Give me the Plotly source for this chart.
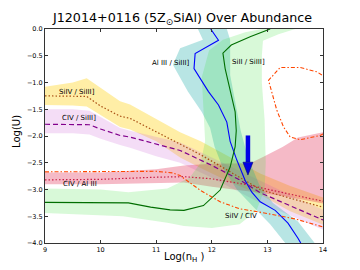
import plotly.graph_objects as go

# ---------------- axes ----------------
nH_ticks = [9, 10, 11, 12, 13, 14]
logU_ticks = [0.0, -0.5, -1.0, -1.5, -2.0, -2.5, -3.0, -3.5, -4.0]

# ---------------- SiIV / SiIII] (band + dotted line) ----------------
siiv_siii_nH = [9.0, 9.5, 9.75, 10.0, 10.35, 10.53, 11.0, 11.43, 11.8, 12.3, 12.87, 13.4, 14.0]
siiv_siii_hi = [-1.08, -1.0, -0.92, -1.1, -1.35, -1.41, -1.68, -1.93, -2.1, -2.38, -2.7, -2.93, -3.15]
siiv_siii_mid = [-1.25, -1.25, -1.26, -1.44, -1.63, -1.67, -1.92, -2.14, -2.35, -2.65, -3.0, -3.16, -3.33]
siiv_siii_lo = [-1.42, -1.43, -1.45, -1.6, -1.83, -1.88, -2.1, -2.4, -2.6, -2.85, -3.1, -3.4, -3.66]

# ---------------- CIV / SiIII] ----------------
civ_siii_nH = [9.0, 9.5, 9.8, 10.0, 10.35, 10.53, 11.0, 11.43, 12.0, 12.5, 12.87, 13.4, 14.0]
civ_siii_hi = [-1.5, -1.5, -1.53, -1.65, -1.85, -1.9, -2.02, -2.12, -2.4, -2.65, -2.85, -3.1, -3.38]
civ_siii_mid = [-1.78, -1.78, -1.79, -1.87, -1.99, -2.02, -2.15, -2.27, -2.55, -2.82, -3.06, -3.3, -3.57]
civ_siii_lo = [-1.95, -1.95, -1.97, -2.05, -2.17, -2.22, -2.38, -2.5, -2.78, -3.05, -3.25, -3.48, -3.75]

# ---------------- CIV / Al III ----------------
civ_aliii_nH = [9.0, 10.0, 11.0, 11.5, 12.0, 12.69, 12.93, 13.28, 13.55, 14.0]
civ_aliii_hi = [-2.68, -2.68, -2.62, -2.55, -2.52, -2.51, -2.39, -2.2, -2.03, -1.93]
civ_aliii_mid = [-2.82, -2.81, -2.77, -2.76, -2.8, -2.92, -2.98, -3.06, -3.12, -3.22]
civ_aliii_lo = [-2.9, -2.9, -2.88, -2.87, -2.95, -3.04, -3.07, -3.12, -3.17, -3.26]

# ---------------- Al III / SiIII] ----------------
aliii_siii_line_nH = [11.98, 12.12, 11.7, 11.68, 11.94, 12.12, 12.27, 12.33, 12.45, 12.6, 12.72, 12.87, 13.14, 13.37, 13.55, 13.6]
aliii_siii_line_U = [0.0, -0.21, -0.46, -0.74, -1.17, -1.42, -1.74, -2.1, -2.45, -2.83, -3.05, -3.23, -3.39, -3.63, -3.91, -4.0]
aliii_siii_left_nH = [11.75, 11.84, 11.43, 11.3, 11.57, 11.82, 11.97, 12.05, 12.2, 12.45, 12.78, 13.05, 13.32]
aliii_siii_left_U = [0.0, -0.2, -0.36, -0.67, -1.17, -1.55, -1.85, -2.2, -2.6, -3.0, -3.36, -3.65, -4.0]
aliii_siii_right_nH = [12.27, 12.33, 12.33, 12.45, 12.52, 12.65, 12.85, 13.1, 13.55, 13.85]
aliii_siii_right_U = [0.0, -0.2, -0.86, -1.5, -1.9, -2.4, -2.9, -3.25, -3.6, -4.0]

# ---------------- SiII / SiIII] ----------------
siii_siii_line_nH = [9.0, 10.0, 10.5, 10.9, 11.25, 11.5, 11.85, 12.15, 12.33, 12.42, 12.44, 12.42, 12.33, 12.24, 12.2, 12.35, 12.7, 13.05]
siii_siii_line_U = [-3.24, -3.24, -3.25, -3.33, -3.38, -3.39, -3.3, -3.01, -2.58, -2.2, -1.9, -1.55, -1.17, -0.74, -0.45, -0.3, -0.14, 0.0]
siii_siii_inner_nH = [9.0, 10.0, 10.5, 11.2, 11.6, 11.8, 11.88, 11.85, 11.82, 11.95, 12.2, 12.6, 12.9]
siii_siii_inner_U = [-2.98, -3.0, -3.05, -2.98, -2.78, -2.5, -2.1, -1.5, -0.9, -0.4, -0.2, -0.06, 0.0]
siii_siii_outer_nH = [13.5, 13.2, 12.92, 12.9, 12.9, 12.95, 12.97, 12.95, 12.8, 12.5, 12.0, 11.5, 11.2, 10.4, 9.0]
siii_siii_outer_U = [0.0, -0.1, -0.22, -0.5, -1.0, -1.7, -2.5, -3.0, -3.4, -3.65, -3.72, -3.68, -3.62, -3.5, -3.44]

# ---------------- SiIV / CIV (two contour branches) ----------------
siiv_civ_low_nH = [9.0, 10.0, 11.0, 11.3, 11.43, 11.8, 12.15, 12.5, 12.9, 13.5, 14.0]
siiv_civ_low_U = [-2.67, -2.66, -2.66, -2.69, -2.74, -3.02, -3.23, -3.36, -3.43, -3.55, -3.7]
siiv_civ_loop_nH = [13.98, 13.89, 13.59, 13.23, 13.02, 13.08, 13.17, 13.29, 13.41, 13.59, 13.8, 13.95, 14.0]
siiv_civ_loop_U = [-0.86, -0.8, -0.72, -0.72, -0.96, -1.17, -1.52, -1.83, -2.02, -2.07, -2.03, -1.99, -1.96]

# ---------------- solution arrow ----------------
arrow_nH = 12.65
arrow_U_from = -1.99
arrow_U_to = -2.73

# ---------------- labels ----------------
label_text = ["SiIV / SiIII]", "CIV / SiIII]", "CIV / Al III", "Al III / SiIII]", "SiII / SiIII]", "SiIV / CIV"]
label_nH = [9.58, 9.62, 9.63, 11.26, 12.66, 12.52]
label_U = [-1.17, -1.67, -2.89, -0.64, -0.62, -3.5]

FONT = "DejaVu Sans"
fig = go.Figure()


def band(x_hi, y_hi, x_lo, y_lo, color):
    fig.add_trace(go.Scatter(x=list(x_hi) + list(x_lo)[::-1], y=list(y_hi) + list(y_lo)[::-1],
                             fill="toself", fillcolor=color, mode="lines",
                             line=dict(width=0, color=color), hoverinfo="skip"))


def line(x, y, color, dash, width=1.1):
    fig.add_trace(go.Scatter(x=x, y=y, mode="lines", line=dict(color=color, dash=dash, width=width),
                             hoverinfo="skip"))


# bands
band(siiv_siii_nH, siiv_siii_hi, siiv_siii_nH, siiv_siii_lo, "rgba(255,210,20,0.38)")
band(civ_siii_nH, civ_siii_hi, civ_siii_nH, civ_siii_lo, "rgba(210,120,220,0.25)")
band(civ_aliii_nH, civ_aliii_hi, civ_aliii_nH, civ_aliii_lo, "rgba(225,40,80,0.32)")
band(aliii_siii_left_nH, aliii_siii_left_U, aliii_siii_right_nH, aliii_siii_right_U, "rgba(20,170,165,0.3)")
fig.add_trace(go.Scatter(x=siii_siii_inner_nH + siii_siii_outer_nH, y=siii_siii_inner_U + siii_siii_outer_U,
                         fill="toself", fillcolor="rgba(60,225,60,0.2)", mode="lines",
                         line=dict(width=0), hoverinfo="skip"))

# lines
line(siiv_siii_nH, siiv_siii_mid, "rgb(170,80,20)", "1.5px,2px", 1.2)
line(civ_siii_nH, civ_siii_mid, "rgb(130,0,140)", "5px,3px", 1.2)
line(civ_aliii_nH, civ_aliii_mid, "rgb(200,30,70)", "1.5px,2px", 1.2)
line(aliii_siii_line_nH, aliii_siii_line_U, "rgb(0,0,255)", "solid")
line(siii_siii_line_nH, siii_siii_line_U, "rgb(0,110,0)", "solid")
line(siiv_civ_low_nH, siiv_civ_low_U, "rgb(255,70,0)", "4px,2px,1.5px,2px")
line(siiv_civ_loop_nH, siiv_civ_loop_U, "rgb(255,70,0)", "4px,2px,1.5px,2px")

# arrow (shaft + head)
head_len = 0.24
head_half = 0.09
fig.add_shape(type="line", x0=arrow_nH, x1=arrow_nH, y0=arrow_U_from, y1=arrow_U_to + head_len,
              line=dict(color="rgb(0,0,230)", width=4.5))
fig.add_shape(type="path",
              path=f"M {arrow_nH - head_half},{arrow_U_to + head_len} L {arrow_nH + head_half},{arrow_U_to + head_len} L {arrow_nH},{arrow_U_to} Z",
              fillcolor="rgb(0,0,230)", line=dict(color="rgb(0,0,120)", width=0.6))

for t, xx, yy in zip(label_text, label_nH, label_U):
    fig.add_annotation(x=xx, y=yy, text=t, showarrow=False, xanchor="center", yanchor="middle",
                       font=dict(family=FONT, size=7, color="black"))

# axis titles
fig.add_annotation(x=0.5, y=-0.07, xref="paper", yref="paper", text="Log(n<sub>H</sub> )", showarrow=False,
                   xanchor="center", yanchor="middle", font=dict(family=FONT, size=10, color="black"))
fig.add_annotation(x=-0.1, y=0.52, xref="paper", yref="paper", text="Log(U)", showarrow=False, textangle=-90,
                   xanchor="center", yanchor="middle", font=dict(family=FONT, size=10, color="black"))

axis_common = dict(showgrid=False, zeroline=False, showline=True, linecolor="#333", linewidth=1,
                   mirror="ticks", ticks="inside", ticklen=3, tickcolor="#333",
                   tickfont=dict(family=FONT, size=6.5, color="black"))

# the page body adds an 8 px offset, so the figure is 8 px smaller and margins are shifted
fig.update_layout(
    width=352, height=262,
    margin=dict(l=37, r=37, t=21, b=27),
    paper_bgcolor="white", plot_bgcolor="white",
    showlegend=False,
    title=dict(text="J12014+0116 (5Z<sub>⊙</sub>SiAl) Over Abundance", x=174.5 / 352, xanchor="center",
               y=1 - 10 / 262, yanchor="middle", yref="container",
               font=dict(family=FONT, size=12.7, color="black")),
    xaxis=dict(range=[9, 14], tickvals=nH_ticks, **axis_common),
    yaxis=dict(range=[-4, 0], tickvals=logU_ticks, tickformat=".1f", **axis_common),
)

fig.write_html("out.html")
